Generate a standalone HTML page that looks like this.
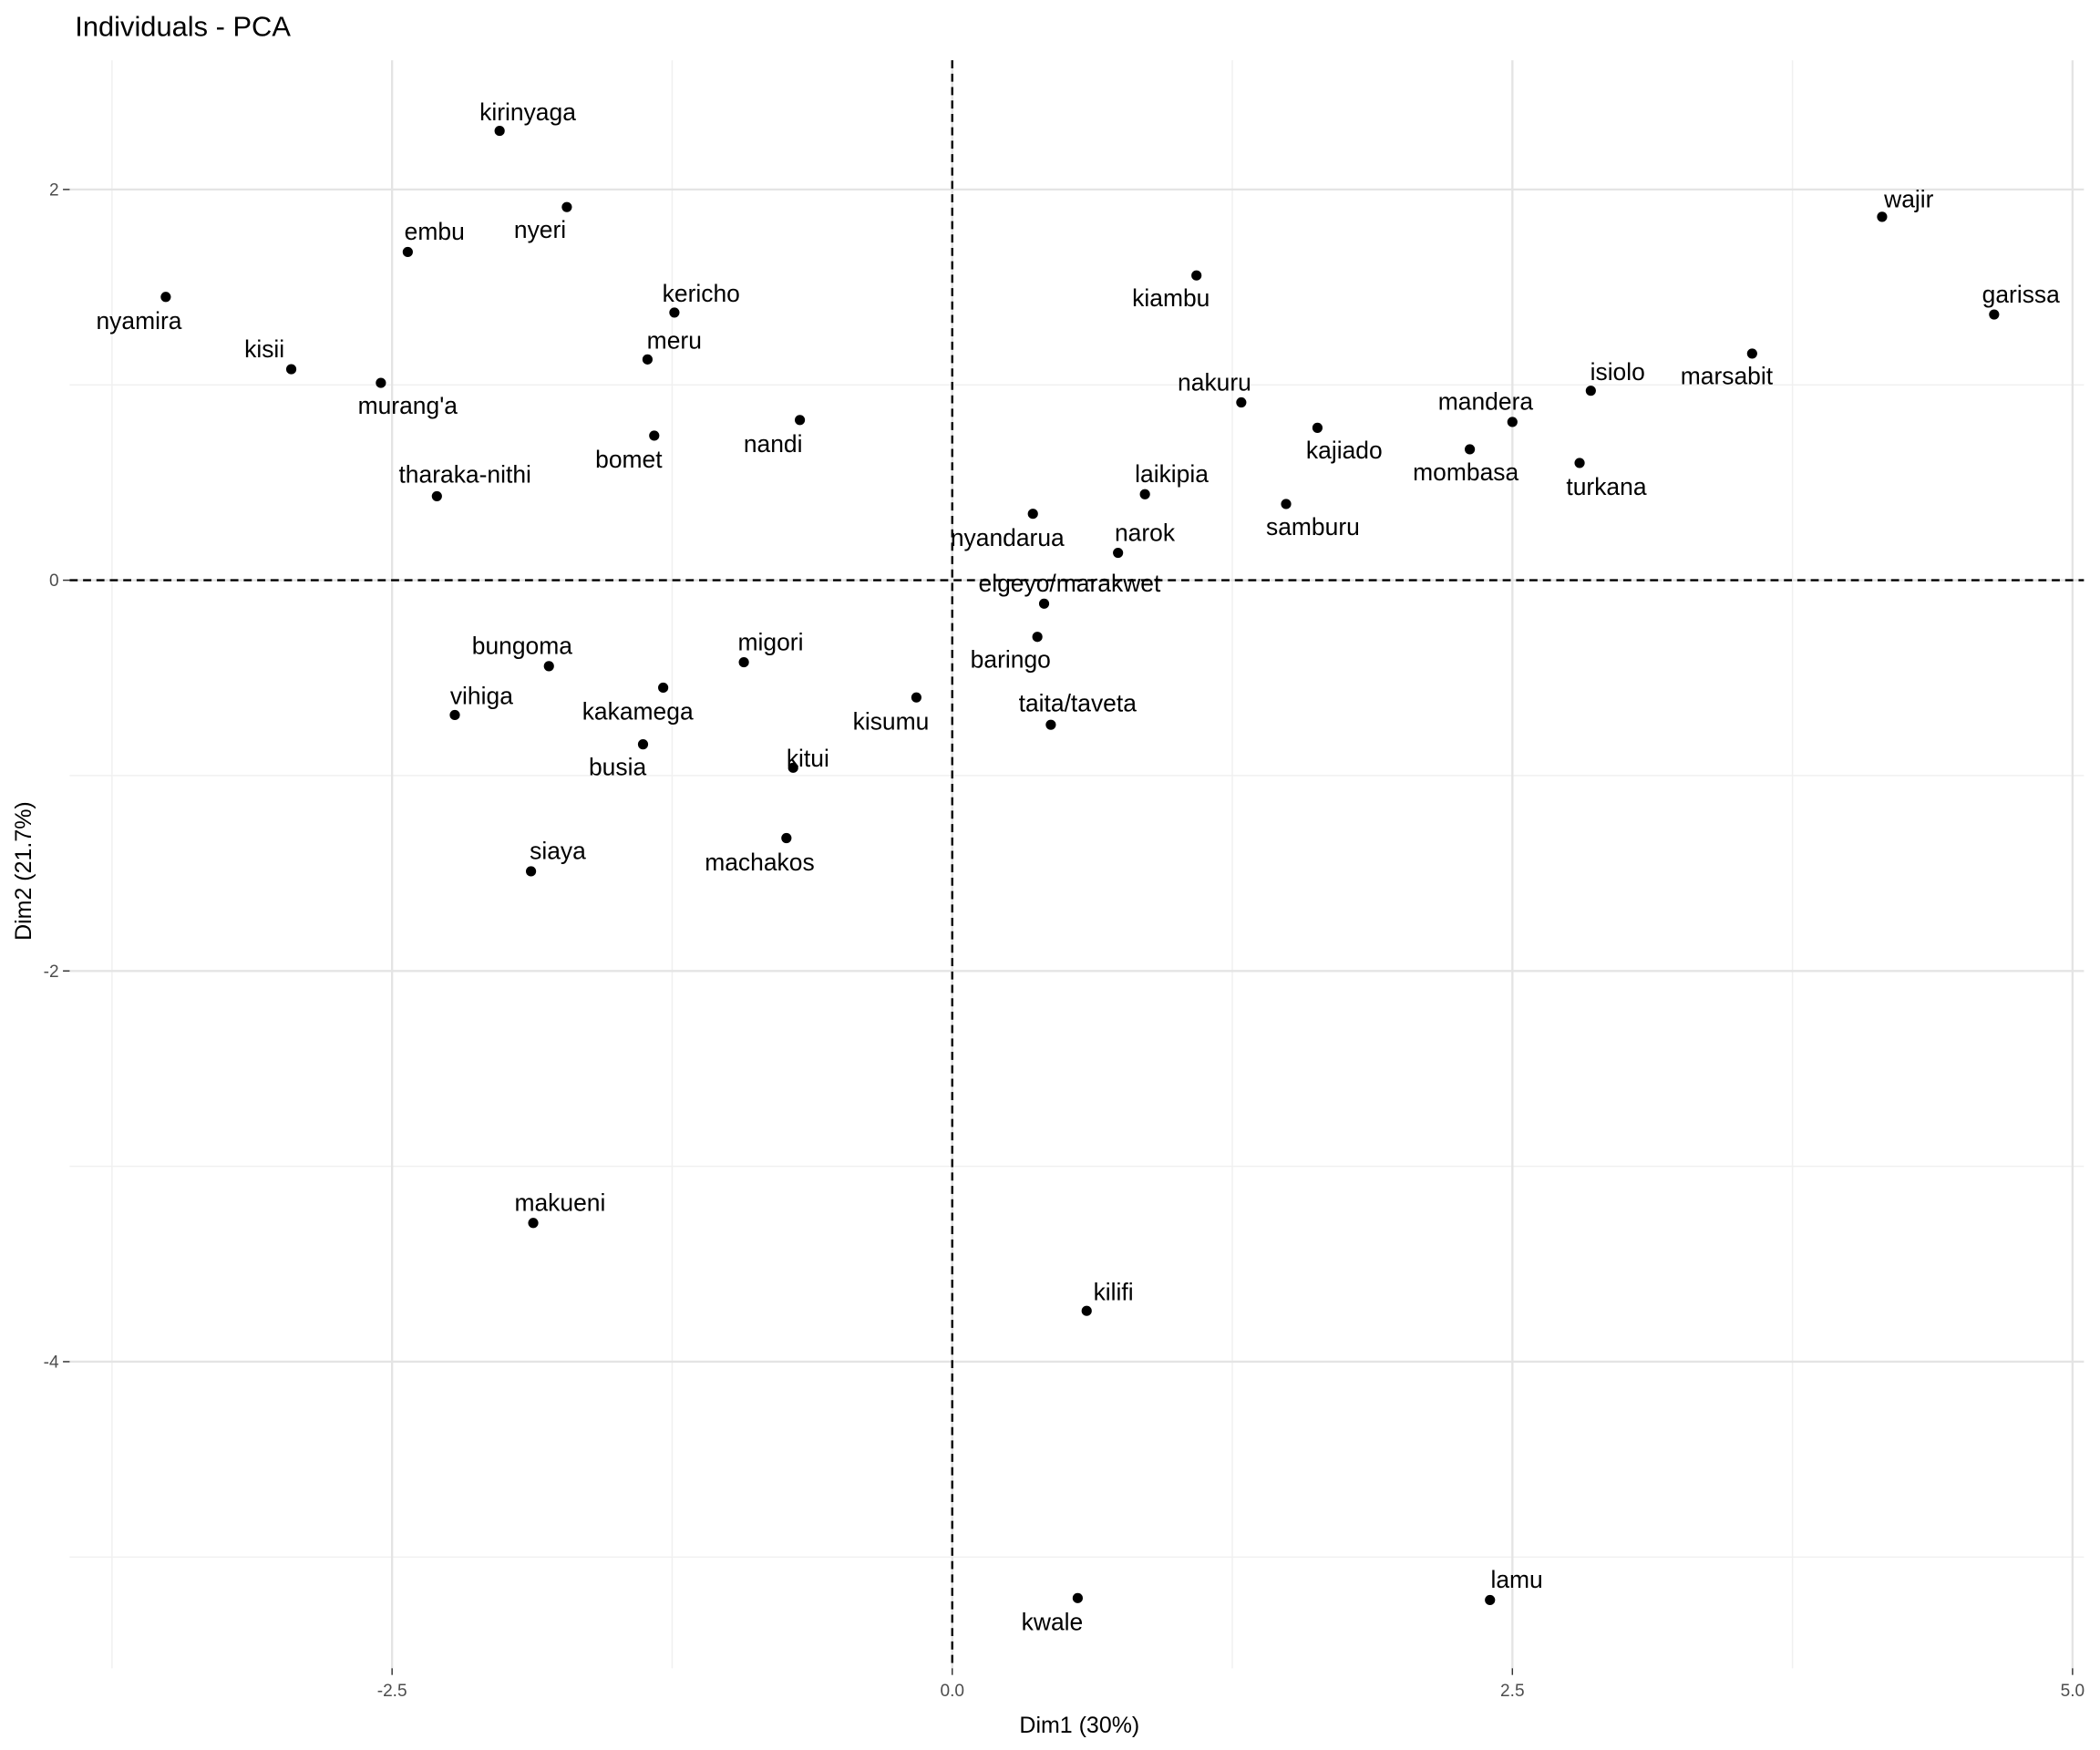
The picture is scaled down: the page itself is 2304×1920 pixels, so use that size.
<!DOCTYPE html>
<html><head><meta charset="utf-8"><style>
html,body{margin:0;padding:0;background:#fff;}
svg{display:block;font-family:"Liberation Sans",Arial,sans-serif;}
</style></head><body>
<svg id="chart" width="2304" height="1920" viewBox="0 0 1568 1306" preserveAspectRatio="none" xmlns="http://www.w3.org/2000/svg">
<text x="56" y="27" font-size="21" fill="#000">Individuals - PCA</text>
<g id="grid"></g>
<g id="axes"></g>
<g id="points"></g>
<text x="806" y="1293" font-size="17" text-anchor="middle">Dim1 (30%)</text>
<text transform="translate(23,650) rotate(-90)" font-size="17" text-anchor="middle">Dim2 (21.7%)</text>
</svg>
<script>
const names=["kirinyaga","nyeri","embu","nyamira","kericho","kisii","meru","murang'a","bomet","nandi","tharaka-nithi","kiambu","nakuru","kajiado","samburu","laikipia","nyandarua","narok","mombasa","mandera","isiolo","turkana","marsabit","wajir","garissa","elgeyo/marakwet","baringo","taita/taveta","kisumu","migori","bungoma","kakamega","vihiga","busia","kitui","machakos","siaya","makueni","kilifi","kwale","lamu"];
const dim1=[-2.02,-1.72,-2.43,-3.51,-1.24,-2.95,-1.36,-2.55,-1.33,-0.68,-2.30,1.09,1.29,1.63,1.49,0.86,0.36,0.74,2.31,2.50,2.85,2.80,3.57,4.15,4.65,0.41,0.38,0.44,-0.16,-0.93,-1.80,-1.29,-2.22,-1.38,-0.71,-0.74,-1.88,-1.87,0.60,0.56,2.40];
const dim2=[2.30,1.91,1.68,1.45,1.37,1.08,1.13,1.01,0.74,0.82,0.43,1.56,0.91,0.78,0.39,0.44,0.34,0.14,0.67,0.81,0.97,0.60,1.16,1.86,1.36,-0.12,-0.29,-0.74,-0.60,-0.42,-0.44,-0.55,-0.69,-0.84,-0.96,-1.32,-1.49,-3.29,-3.74,-5.21,-5.22];
const labelDx=[21,-20,20,-20,20,-20,20,20,-19,-20,21,-19,-20,20,20,20,-19,20,-3,-20,20,20,-19,20,20,19,-20,20,-19,20,-20,-19,20,-19,11,-20,20,20,20,-19,20];
const labelDy=[-14,17,-15,18,-14,-15,-14,17,18,18,-16,17,-15,17,17,-15,18,-15,17,-15,-14,18,17,-13,-15,-15,17,-16,18,-15,-15,18,-14,17,-7,18,-15,-15,-14,18,-15];
const xTicks=[-2.5,0,2.5,5];
const xTickLabels=["-2.5","0.0","2.5","5.0"];
const yTicks=[2,0,-2,-4];
const yTickLabels=["2","0","-2","-4"];
const xMinor=[-3.75,-1.25,1.25,3.75];
const yMinor=[3,1,-1,-3,-5];

const L=52,R=1556,T=45,B=1245;
const sx=v=>711+v*167.3;
const sy=v=>433-v*145.8;
const NS="http://www.w3.org/2000/svg";
function mk(tag,attrs,parent){const e=document.createElementNS(NS,tag);for(const k in attrs)e.setAttribute(k,attrs[k]);parent.appendChild(e);return e;}
const grid=document.getElementById('grid'),axes=document.getElementById('axes'),pts=document.getElementById('points');
xMinor.forEach(v=>{const l=mk('line',{x1:sx(v),x2:sx(v),y1:T,y2:B,stroke:'#f0f0f0','stroke-width':1},grid);

});
yMinor.forEach(v=>{const l=mk('line',{x1:L,x2:R,y1:sy(v),y2:sy(v),stroke:'#f0f0f0','stroke-width':1},grid);

});
xTicks.forEach((v,i)=>{const l=mk('line',{x1:sx(v),x2:sx(v),y1:T,y2:B,stroke:'#e4e4e4','stroke-width':1.6},grid);


const tk=mk('line',{x1:sx(v),x2:sx(v),y1:B,y2:B+5,stroke:'#333','stroke-width':1},axes);


const t=mk('text',{x:sx(v),y:B+21,'font-size':13,'text-anchor':'middle',fill:'#4d4d4d'},axes);t.textContent=xTickLabels[i];

});
yTicks.forEach((v,i)=>{const l=mk('line',{x1:L,x2:R,y1:sy(v),y2:sy(v),stroke:'#e4e4e4','stroke-width':1.6},grid);


const tk=mk('line',{x1:L-5,x2:L,y1:sy(v),y2:sy(v),stroke:'#333','stroke-width':1},axes);


const t=mk('text',{x:L-8,y:sy(v)+4.5,'font-size':13,'text-anchor':'end',fill:'#4d4d4d'},axes);t.textContent=yTickLabels[i];

});
const vz=mk('line',{x1:sx(0),x2:sx(0),y1:T,y2:B,stroke:'#000','stroke-width':1.6,'stroke-dasharray':'6,4'},axes);


const hz=mk('line',{x1:L,x2:R,y1:sy(0),y2:sy(0),stroke:'#000','stroke-width':1.6,'stroke-dasharray':'6,4'},axes);


names.forEach((n,i)=>{const x=sx(dim1[i]),y=sy(dim2[i]);
const c=mk('circle',{cx:x,cy:y,r:3.8,fill:'#000'},pts);


const t=mk('text',{x:x+labelDx[i],y:y+labelDy[i]+6,'font-size':18,'text-anchor':'middle',fill:'#000'},pts);t.textContent=n;

});
</script>
</body></html>
